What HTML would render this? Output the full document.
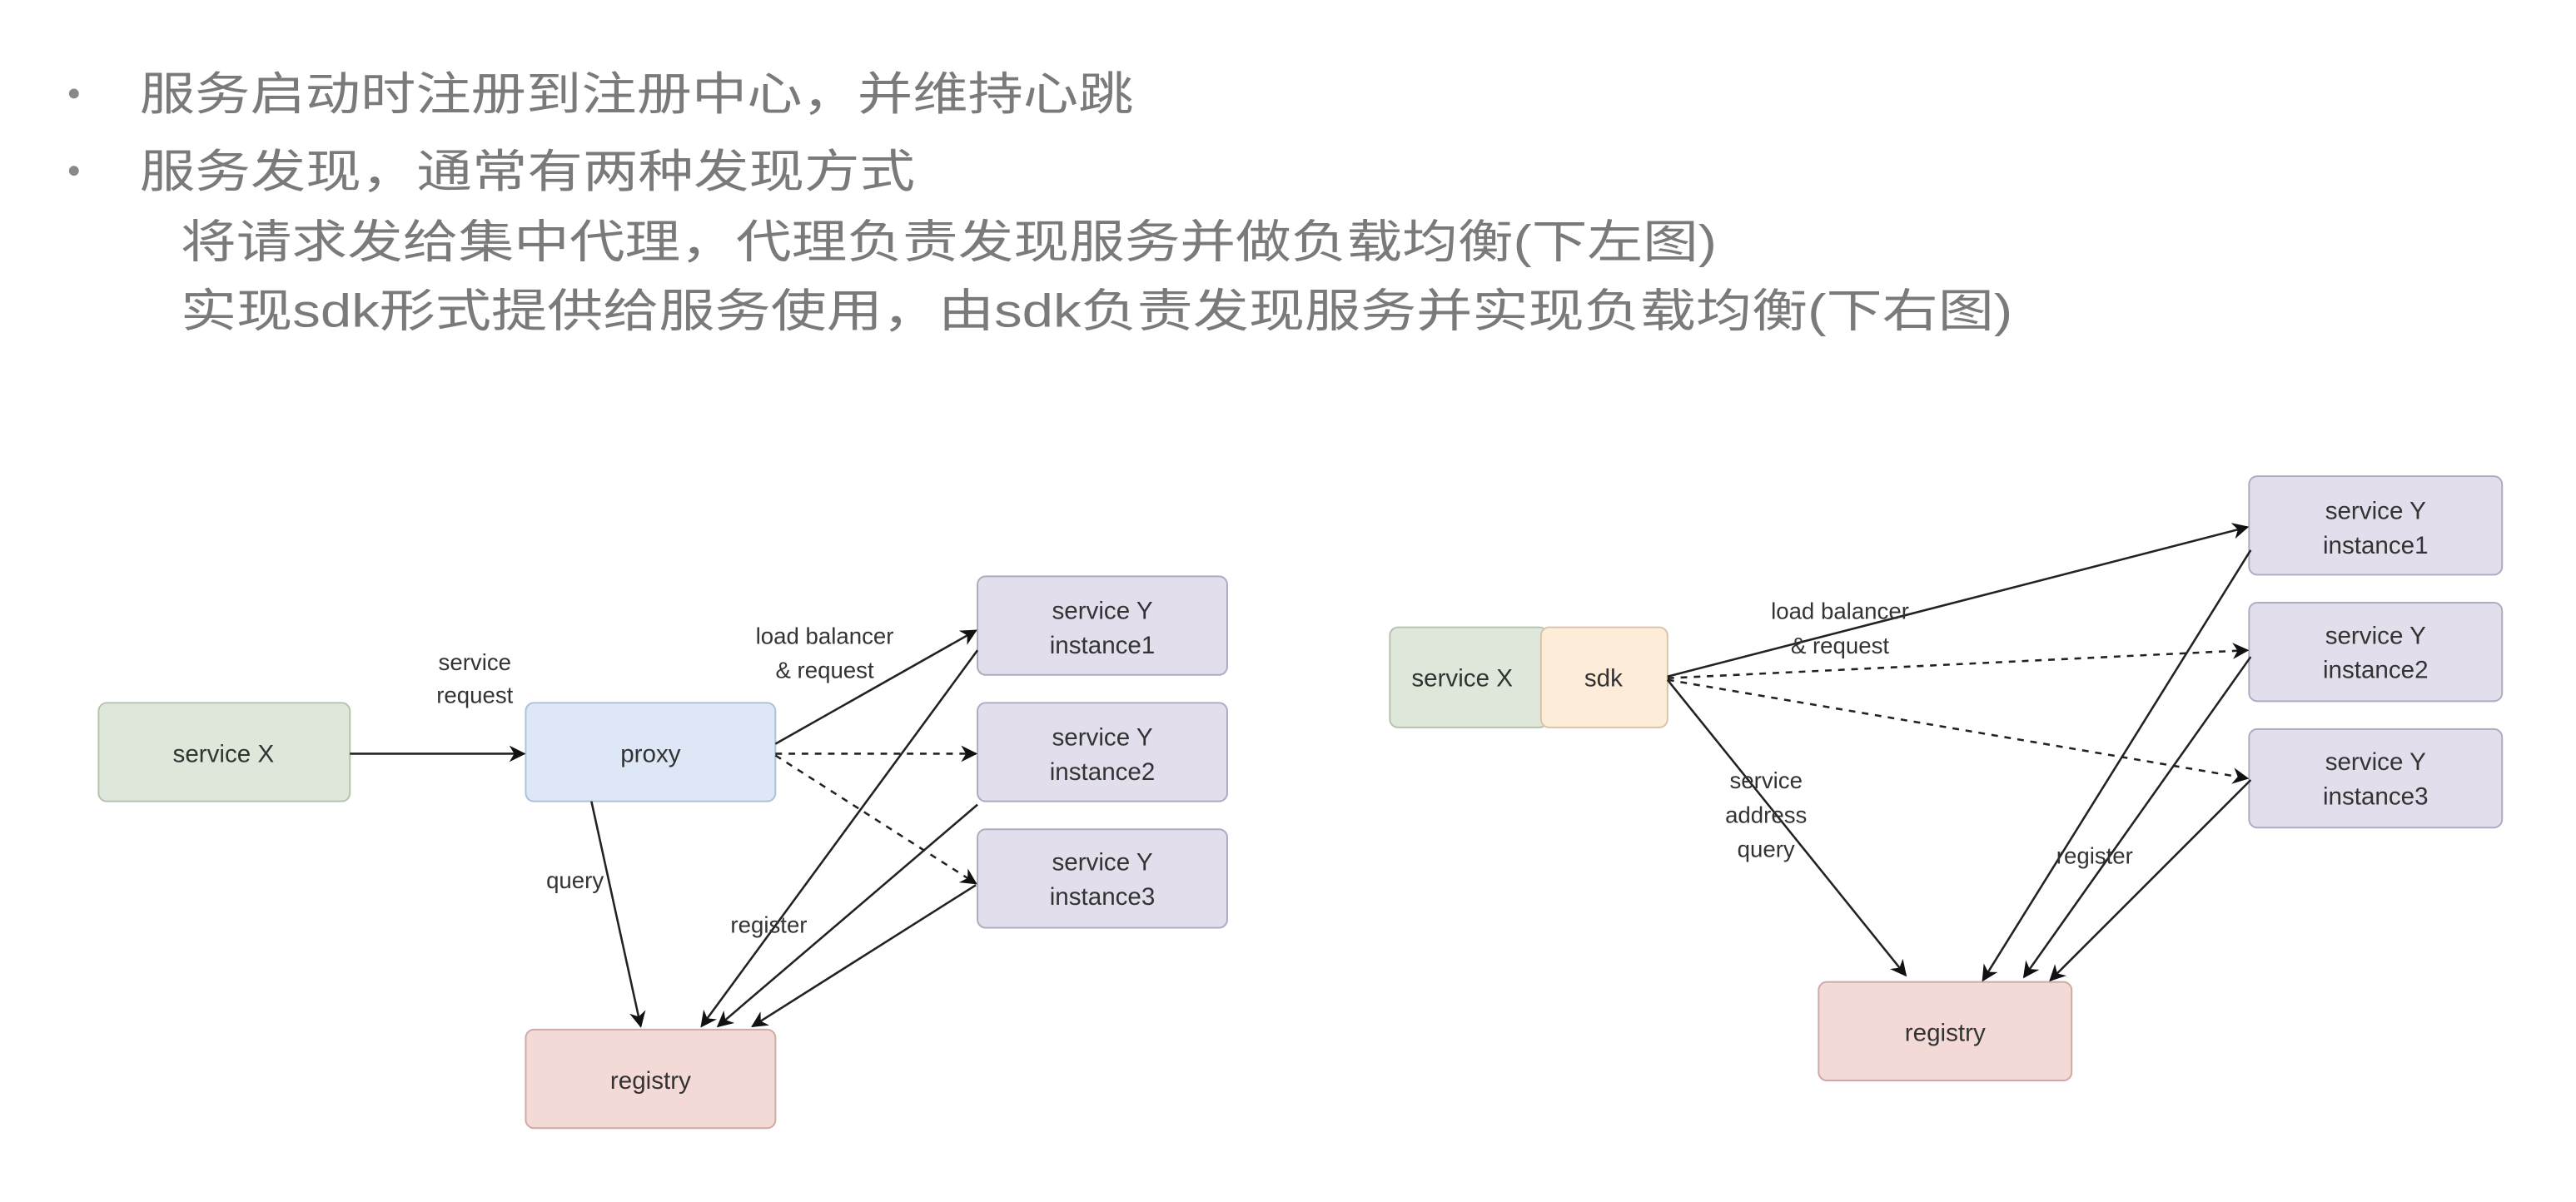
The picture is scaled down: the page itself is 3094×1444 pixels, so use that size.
<!DOCTYPE html>
<html><head><meta charset="utf-8"><style>
html,body{margin:0;padding:0;background:#fff;}
svg{display:block;}
.t{font-family:"Liberation Sans","Noto Sans CJK SC",sans-serif;fill:#7a7a7a;font-size:28px;}
.b{font-family:"Liberation Sans",sans-serif;fill:#333;font-size:15px;text-anchor:middle;}
.l{font-family:"Liberation Sans",sans-serif;fill:#333;font-size:14px;text-anchor:middle;}
.ln{stroke:#222;stroke-width:1.3;fill:none;}
.d{stroke:#222;stroke-width:1.3;fill:none;stroke-dasharray:4 4;}
</style></head><body>
<svg width="3094" height="1444" viewBox="0 0 1568 732" preserveAspectRatio="none" xmlns="http://www.w3.org/2000/svg">
<defs><marker id="a" markerWidth="10" markerHeight="10" refX="9" refY="5" orient="auto" markerUnits="userSpaceOnUse"><path d="M0,0 L10,5 L0,10 L3,5 z" fill="#111"/></marker></defs>
<circle cx="45" cy="57" r="3" fill="#888"/>
<circle cx="45" cy="104" r="3" fill="#888"/>
<text class="t" x="85" y="67" textLength="605" lengthAdjust="spacingAndGlyphs">服务启动时注册到注册中心，并维持心跳</text>
<text class="t" x="85" y="114" textLength="472" lengthAdjust="spacingAndGlyphs">服务发现，通常有两种发现方式</text>
<text class="t" x="110" y="157" textLength="935" lengthAdjust="spacingAndGlyphs">将请求发给集中代理，代理负责发现服务并做负载均衡(下左图)</text>
<text class="t" x="110" y="199" textLength="1115" lengthAdjust="spacingAndGlyphs">实现sdk形式提供给服务使用，由sdk负责发现服务并实现负载均衡(下右图)</text>

<!-- left diagram -->
<rect x="60" y="428" width="153" height="60" rx="5" fill="#dfe7da" stroke="#b5c2ad"/>
<text class="b" x="136" y="464">service X</text>
<rect x="320" y="428" width="152" height="60" rx="5" fill="#dde7f6" stroke="#b0bfd8"/>
<text class="b" x="396" y="464">proxy</text>
<rect x="595" y="351" width="152" height="60" rx="5" fill="#e2deec" stroke="#aeaabf"/>
<text class="b" x="671" y="377">service Y</text><text class="b" x="671" y="398">instance1</text>
<rect x="595" y="428" width="152" height="60" rx="5" fill="#e2deec" stroke="#aeaabf"/>
<text class="b" x="671" y="454">service Y</text><text class="b" x="671" y="475">instance2</text>
<rect x="595" y="505" width="152" height="60" rx="5" fill="#e2deec" stroke="#aeaabf"/>
<text class="b" x="671" y="530">service Y</text><text class="b" x="671" y="551">instance3</text>
<rect x="320" y="627" width="152" height="60" rx="5" fill="#f3dad7" stroke="#ccaaa6"/>
<text class="b" x="396" y="663">registry</text>

<line class="ln" x1="213" y1="459" x2="319" y2="459" marker-end="url(#a)"/>
<line class="ln" x1="472" y1="453" x2="594" y2="384" marker-end="url(#a)"/>
<line class="d" x1="472" y1="459" x2="594" y2="459" marker-end="url(#a)"/>
<line class="d" x1="472" y1="460" x2="594" y2="538" marker-end="url(#a)"/>
<line class="ln" x1="360" y1="488" x2="390" y2="625" marker-end="url(#a)"/>
<line class="ln" x1="595" y1="396" x2="427" y2="625" marker-end="url(#a)"/>
<line class="ln" x1="595" y1="490" x2="437" y2="625" marker-end="url(#a)"/>
<line class="ln" x1="594" y1="539" x2="458" y2="625" marker-end="url(#a)"/>
<text class="l" x="289" y="408">service</text><text class="l" x="289" y="428">request</text>
<text class="l" x="502" y="392">load balancer</text><text class="l" x="502" y="413">&amp; request</text>
<text class="l" x="350" y="541">query</text>
<text class="l" x="468" y="568">register</text>

<!-- right diagram -->
<rect x="846" y="382" width="96" height="61" rx="5" fill="#dfe7da" stroke="#b5c2ad"/>
<text class="b" x="890" y="418">service X</text>
<rect x="938" y="382" width="77" height="61" rx="5" fill="#fcecd8" stroke="#d8c4a8"/>
<text class="b" x="976" y="418">sdk</text>
<rect x="1369" y="290" width="154" height="60" rx="5" fill="#e2deec" stroke="#aeaabf"/>
<text class="b" x="1446" y="316">service Y</text><text class="b" x="1446" y="337">instance1</text>
<rect x="1369" y="367" width="154" height="60" rx="5" fill="#e2deec" stroke="#aeaabf"/>
<text class="b" x="1446" y="392">service Y</text><text class="b" x="1446" y="413">instance2</text>
<rect x="1369" y="444" width="154" height="60" rx="5" fill="#e2deec" stroke="#aeaabf"/>
<text class="b" x="1446" y="469">service Y</text><text class="b" x="1446" y="490">instance3</text>
<rect x="1107" y="598" width="154" height="60" rx="5" fill="#f3dad7" stroke="#ccaaa6"/>
<text class="b" x="1184" y="634">registry</text>

<line class="ln" x1="1015" y1="412" x2="1368" y2="321" marker-end="url(#a)"/>
<line class="d" x1="1015" y1="413" x2="1368" y2="396" marker-end="url(#a)"/>
<line class="d" x1="1015" y1="414" x2="1368" y2="474" marker-end="url(#a)"/>
<line class="ln" x1="1015" y1="414" x2="1160" y2="594" marker-end="url(#a)"/>
<line class="ln" x1="1370" y1="335" x2="1207" y2="597" marker-end="url(#a)"/>
<line class="ln" x1="1370" y1="400" x2="1232" y2="595" marker-end="url(#a)"/>
<line class="ln" x1="1370" y1="475" x2="1248" y2="597" marker-end="url(#a)"/>
<text class="l" x="1120" y="377">load balancer</text><text class="l" x="1120" y="398">&amp; request</text>
<text class="l" x="1075" y="480">service</text><text class="l" x="1075" y="501">address</text><text class="l" x="1075" y="522">query</text>
<text class="l" x="1275" y="526">register</text>
</svg>
</body></html>
